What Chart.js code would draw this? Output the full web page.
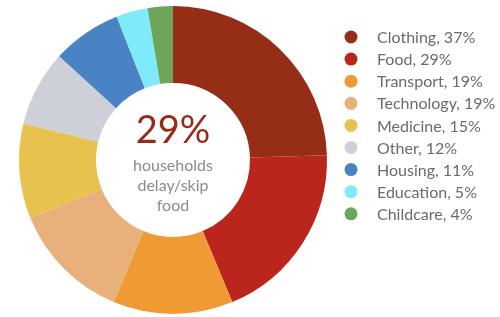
<!DOCTYPE html>
<html>
<head>
<meta charset="utf-8">
<script src="https://cdn.jsdelivr.net/npm/chart.js@4"></script>
<style>
  html, body { margin: 0; padding: 0; background: #fff; }
  #wrap { position: relative; width: 500px; height: 317px; }
</style>
</head>
<body>
<div id="wrap"><canvas id="expenseChart"></canvas></div>
<script>
// Datos del gráfico
const categories = ['Clothing', 'Food', 'Transport', 'Technology', 'Medicine', 'Other', 'Housing', 'Education', 'Childcare'];
const shares = [37, 29, 19, 19, 15, 12, 11, 5, 4];
const sliceColors = ['#962d17', '#bb261c', '#f09a36', '#e8b07a', '#e8c24e', '#cdd0d6', '#4a83c4', '#7feaf9', '#6fa55a'];
const centerValue = '29%';
const centerLines = ['households', 'delay/skip', 'food'];

const FONT = 'Lato, "Open Sans", sans-serif';

// Texto en el centro de la dona
const centerText = {
    id: 'centerText',
    afterDraw(chart) {
        const meta = chart.getDatasetMeta(0);
        if (!meta.data.length) return;
        const { x, y } = meta.data[0];
        const ctx = chart.ctx;
        ctx.save();
        ctx.textAlign = 'center';
        ctx.textBaseline = 'middle';
        ctx.fillStyle = '#9a2a17';
        ctx.font = '38px ' + FONT;
        ctx.fillText(centerValue, x, y - 29);
        ctx.fillStyle = '#8a8a8a';
        ctx.font = '16px ' + FONT;
        centerLines.forEach((line, i) => {
            ctx.fillText(line, x, y + 6 + i * 20);
        });
        ctx.restore();
    }
};

// Leyenda a la derecha, dibujada a mano
const sideLegend = {
    id: 'sideLegend',
    afterDraw(chart) {
        const ctx = chart.ctx;
        ctx.save();
        ctx.textBaseline = 'middle';
        ctx.textAlign = 'left';
        ctx.font = '16px ' + FONT;
        categories.forEach((c, i) => {
            const y = 37 + i * 22.1;
            ctx.fillStyle = sliceColors[i];
            ctx.beginPath();
            ctx.arc(351, y, 6.5, 0, Math.PI * 2);
            ctx.fill();
            ctx.fillStyle = '#6b6b6b';
            ctx.fillText(c + ', ' + shares[i] + '%', 377, y + 1);
        });
        ctx.restore();
    }
};

new Chart(document.getElementById('expenseChart').getContext('2d'), {
    type: 'doughnut',
    data: {
        labels: categories,
        datasets: [{
            data: shares,
            backgroundColor: sliceColors,
            borderWidth: 0
        }]
    },
    options: {
        responsive: true,
        maintainAspectRatio: false,
        animation: false,
        cutout: '50%',
        layout: { padding: { top: 6, bottom: 3, left: 19, right: 173 } },
        plugins: {
            tooltip: { enabled: false },
            legend: { display: false }
        }
    },
    plugins: [centerText, sideLegend]
});
</script>
</body>
</html>
